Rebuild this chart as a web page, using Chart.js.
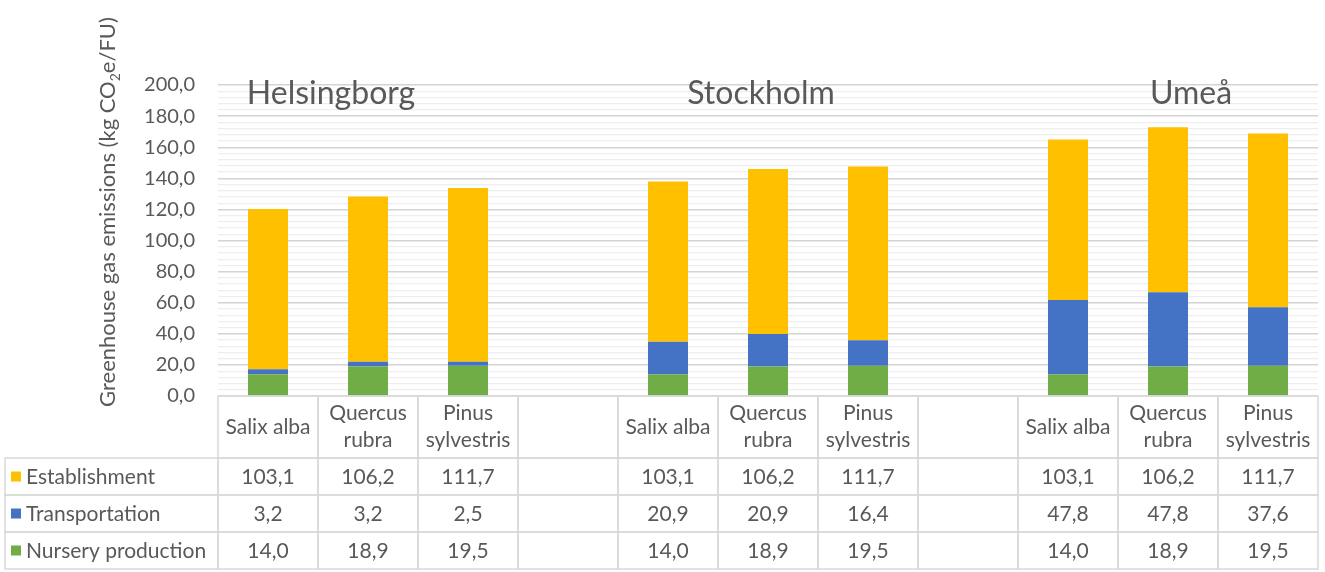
<!DOCTYPE html>
<html lang="en">
<head>
    <meta charset="UTF-8">
    <title>Greenhouse gas emissions per tree</title>
    <script src="https://cdn.jsdelivr.net/npm/chart.js"></script>
    <style>
        html, body { margin: 0; padding: 0; background: #fff; }
        #wrap { width: 1325px; height: 572px; }
    </style>
</head>
<body>
<div id="wrap"><canvas id="ghgChart"></canvas></div>

<script>
// Categories (empty entries are the spacer columns between sites)
const categories = [
    ['Salix alba'], ['Quercus', 'rubra'], ['Pinus', 'sylvestris'], [''],
    ['Salix alba'], ['Quercus', 'rubra'], ['Pinus', 'sylvestris'], [''],
    ['Salix alba'], ['Quercus', 'rubra'], ['Pinus', 'sylvestris']
];
const sites = ['Helsingborg', 'Stockholm', 'Umeå'];

// Series values, kg CO2e/FU
const establishment  = [103.1, 106.2, 111.7, null, 103.1, 106.2, 111.7, null, 103.1, 106.2, 111.7];
const transportation = [3.2, 3.2, 2.5, null, 20.9, 20.9, 16.4, null, 47.8, 47.8, 37.6];
const nursery        = [14.0, 18.9, 19.5, null, 14.0, 18.9, 19.5, null, 14.0, 18.9, 19.5];

// Axis
const yMin = 0, yMax = 200, yMajor = 20, yMinor = 4;

const FONT = 'Lato, "Open Sans", sans-serif';
const TEXT = '#595959';

function fmt(v) {
    return v.toFixed(1).replace('.', ',');
}

// table rows top to bottom, same order as Excel's data table
const tableRows = [
    { label: 'Establishment', data: establishment, color: '#FFC000' },
    { label: 'Transportation', data: transportation, color: '#4472C4' },
    { label: 'Nursery production', data: nursery, color: '#70AD47' }
];

// Draws the site titles, the y title and the data table under the plot
const extrasPlugin = {
    id: 'extras',
    afterDraw(chart) {
        const ctx = chart.ctx;
        const area = chart.chartArea;
        const x = chart.scales.x;
        const colW = (area.right - area.left) / categories.length;

        ctx.save();
        ctx.fillStyle = TEXT;

        // site titles
        const titleOffsets = [-37, -7, 23];
        ctx.font = '32px ' + FONT;
        ctx.textAlign = 'center';
        ctx.textBaseline = 'alphabetic';
        sites.forEach((s, i) => {
            const cx = x.getPixelForValue(i * 4 + 1) + titleOffsets[i];
            ctx.fillText(s, cx, 104);
        });

        // y axis title with subscript 2
        const parts = [
            { t: 'Greenhouse gas emissions (kg CO', size: 22, dy: 0 },
            { t: '2', size: 14, dy: 5 },
            { t: 'e/FU)', size: 22, dy: 0 }
        ];
        let total = 0;
        parts.forEach(p => { ctx.font = p.size + 'px ' + FONT; p.w = ctx.measureText(p.t).width; total += p.w; });
        ctx.translate(115, 212);
        ctx.rotate(-Math.PI / 2);
        ctx.textAlign = 'left';
        let px = -total / 2;
        parts.forEach(p => {
            ctx.font = p.size + 'px ' + FONT;
            ctx.fillText(p.t, px, p.dy);
            px += p.w;
        });
        ctx.setTransform(1, 0, 0, 1, 0, 0);
        ctx.scale(chart.currentDevicePixelRatio, chart.currentDevicePixelRatio);

        // data table
        const top = area.bottom;
        const headH = 62, rowH = 37, legendLeft = 5;
        ctx.strokeStyle = '#d9d9d9';
        ctx.lineWidth = 1.5;

        categories.forEach((lines, i) => {
            const left = x.getPixelForValue(i) - colW / 2;
            ctx.strokeRect(left, top, colW, headH);
            ctx.font = '21px ' + FONT;
            ctx.textAlign = 'center';
            ctx.textBaseline = 'middle';
            const lh = 27;
            const y0 = top + headH / 2 - (lines.length - 1) * lh / 2;
            lines.forEach((ln, k) => ctx.fillText(ln, x.getPixelForValue(i), y0 + k * lh));
        });

        tableRows.forEach((row, r) => {
            const y = top + headH + r * rowH;
            ctx.strokeRect(legendLeft, y, area.left - legendLeft, rowH);
            ctx.fillStyle = row.color;
            ctx.fillRect(11, y + rowH / 2 - 5, 10, 10);
            ctx.fillStyle = TEXT;
            ctx.font = '21px ' + FONT;
            ctx.textAlign = 'left';
            ctx.textBaseline = 'middle';
            ctx.fillText(row.label, 26, y + rowH / 2 + 1);
            ctx.textAlign = 'center';
            row.data.forEach((v, i) => {
                const left = x.getPixelForValue(i) - colW / 2;
                ctx.strokeRect(left, y, colW, rowH);
                if (v !== null) ctx.fillText(fmt(v), x.getPixelForValue(i), y + rowH / 2 + 1);
            });
        });

        ctx.restore();
    }
};

new Chart(document.getElementById('ghgChart'), {
    type: 'bar',
    data: {
        labels: categories,
        datasets: [
            { label: 'Nursery production', data: nursery, backgroundColor: '#70AD47' },
            { label: 'Transportation', data: transportation, backgroundColor: '#4472C4' },
            { label: 'Establishment', data: establishment, backgroundColor: '#FFC000' }
        ]
    },
    options: {
        responsive: true,
        maintainAspectRatio: false,
        animation: false,
        layout: { padding: { left: 0, right: 7, top: 85, bottom: 176 } },
        datasets: { bar: { barPercentage: 0.4, categoryPercentage: 1.0 } },
        plugins: {
            legend: { display: false },
            tooltip: { enabled: false }
        },
        scales: {
            x: {
                stacked: true,
                display: false
            },
            y: {
                stacked: true,
                min: yMin,
                max: yMax,
                border: { display: false },
                grid: {
                    drawTicks: false,
                    color: c => (c.tick && c.tick.value % yMajor === 0) ? '#d4d4d4' : '#eeeeee',
                    lineWidth: c => (c.tick && c.tick.value % yMajor === 0) ? 1.4 : 1.2
                },
                ticks: {
                    stepSize: yMinor,
                    autoSkip: false,
                    padding: 23,
                    color: TEXT,
                    font: { family: FONT, size: 20 },
                    callback: v => (v % yMajor === 0) ? fmt(v) : ''
                },
                afterFit(scale) { scale.width = 218; }
            }
        }
    },
    plugins: [extrasPlugin]
});
</script>
</body>
</html>
